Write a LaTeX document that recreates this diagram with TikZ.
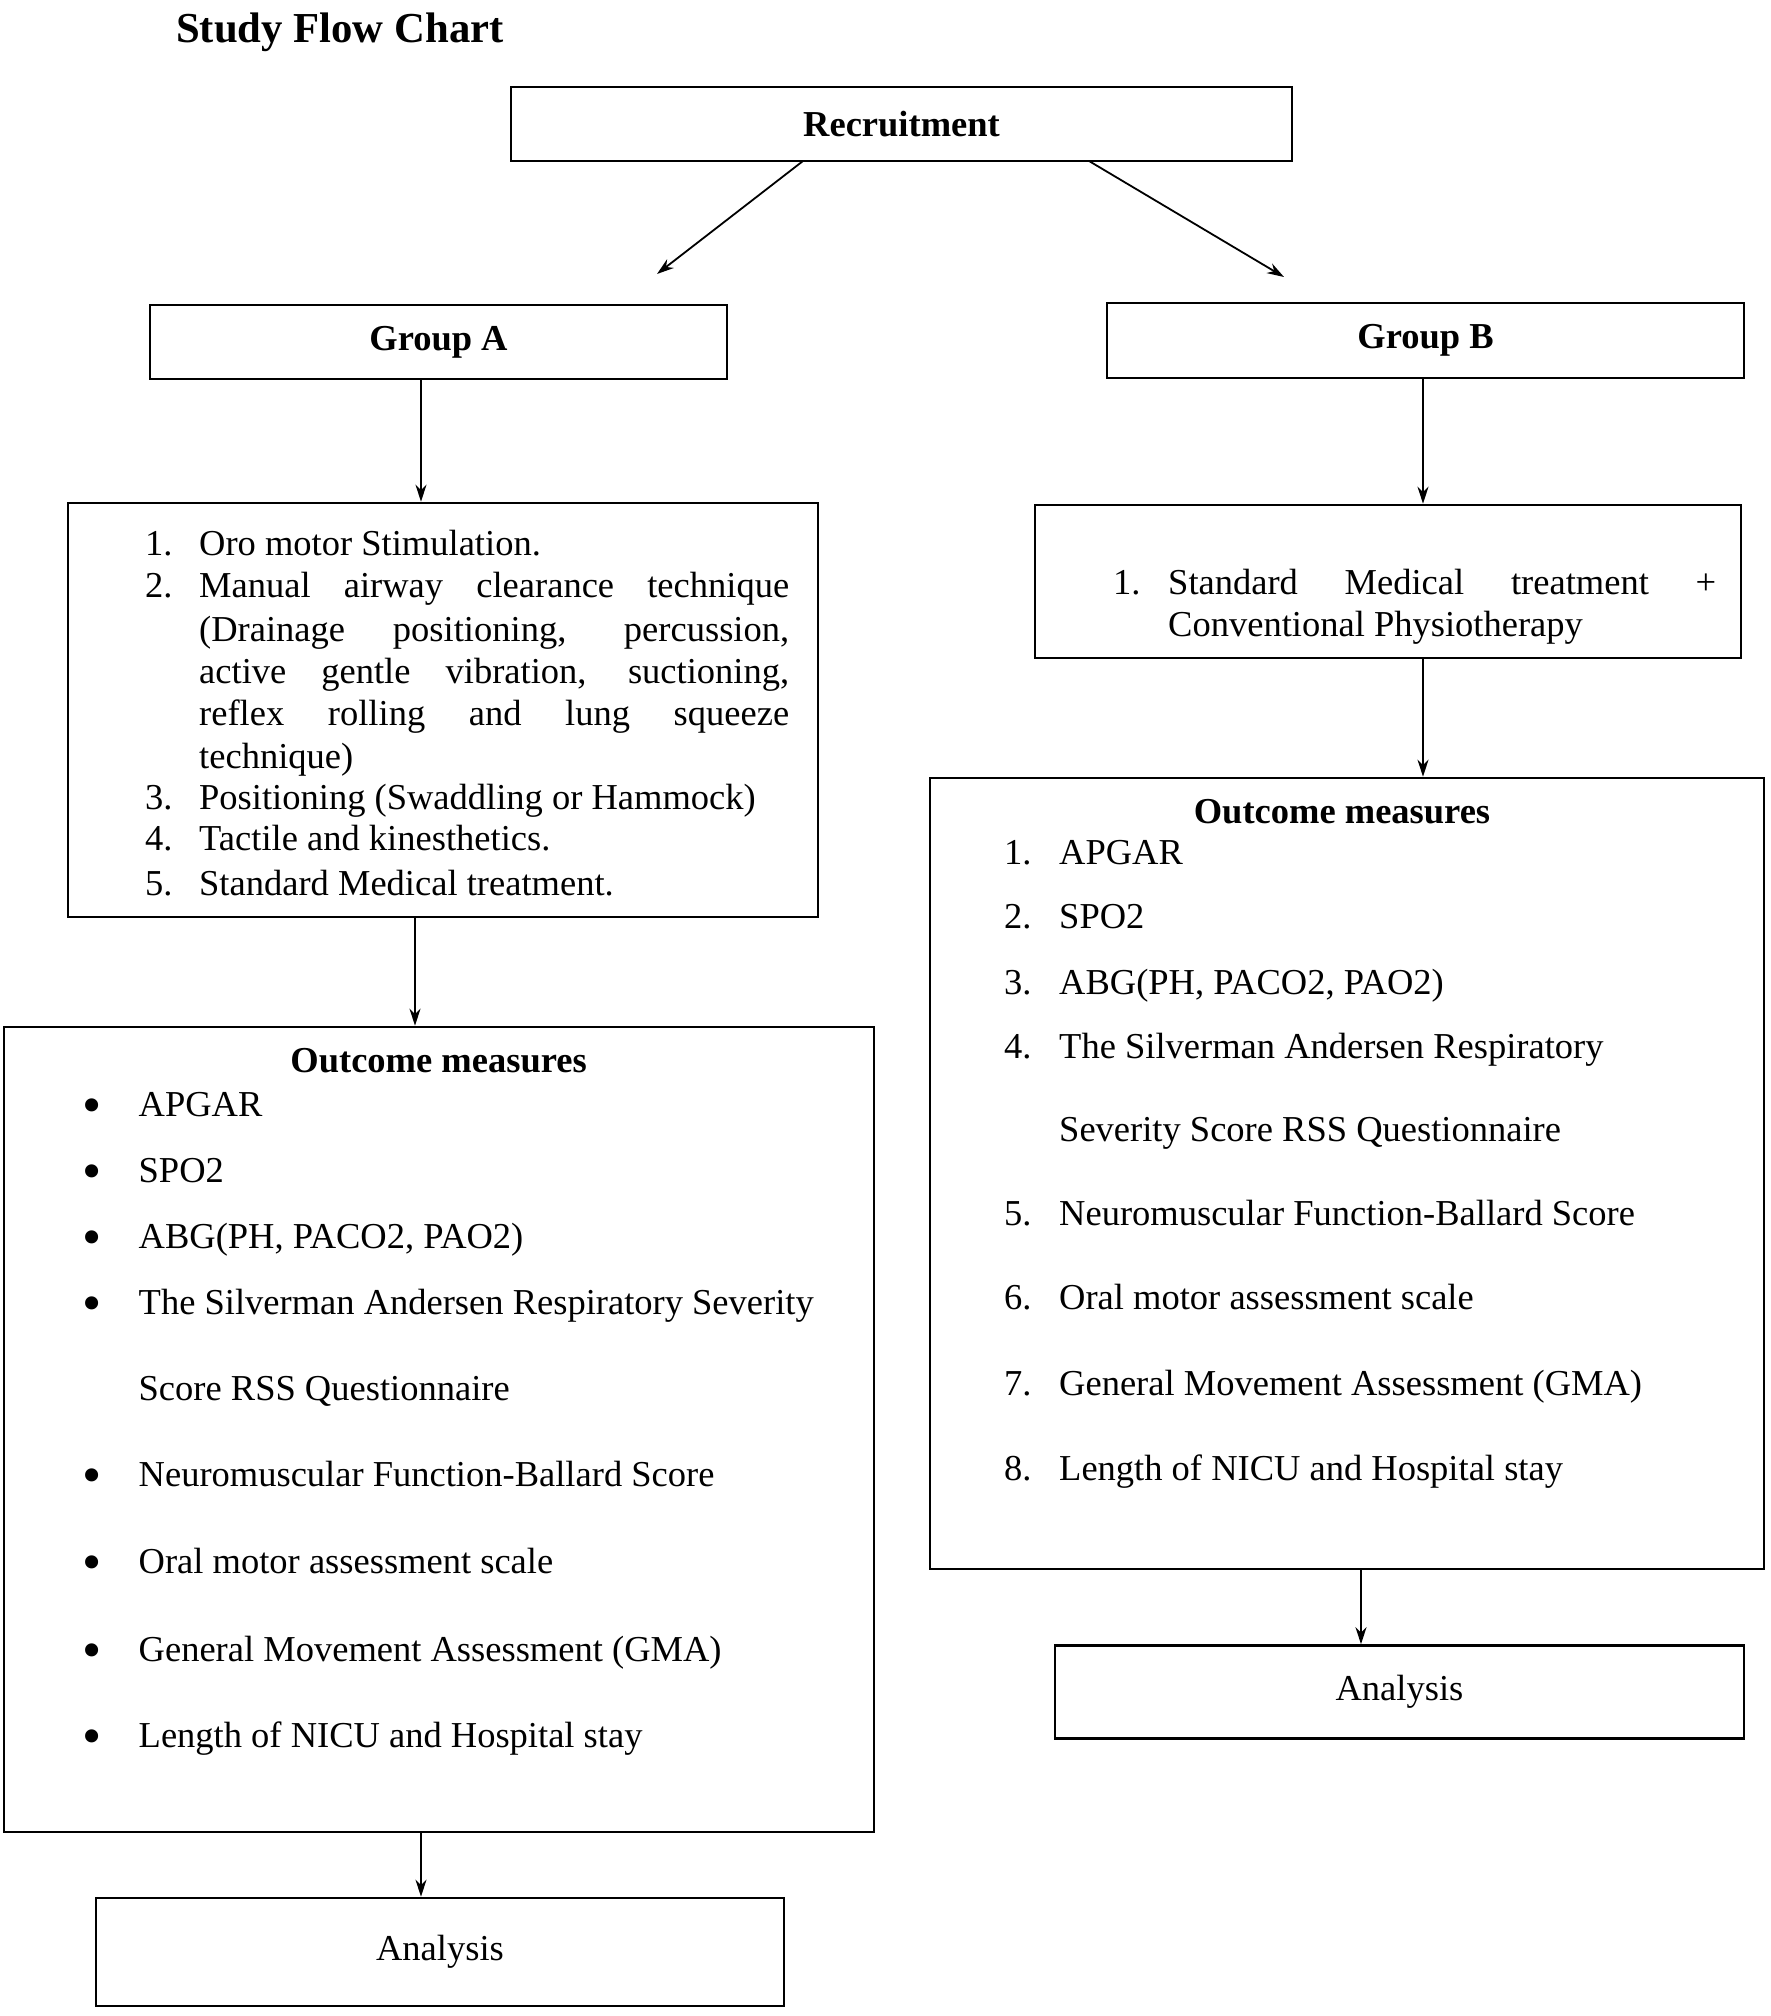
\documentclass[tikz,border=0pt]{standalone}
\usepackage{fontspec}
\setmainfont{Liberation Serif}
\usetikzlibrary{arrows.meta}
\newcommand\bodyfont{\fontsize{36.5}{44}\selectfont}
\newcommand\titlefont{\fontsize{42.7}{50}\selectfont\bfseries}
\newcommand\bigbullet{\raisebox{-7pt}{\scalebox{1.5}{\textbullet}}}
\tikzset{
  box/.style={draw, line width=2.6pt, rectangle, inner sep=0pt, font=\bodyfont},
  arr/.style={line width=1.8pt, -{Stealth[length=17pt,width=11pt]}},
  txt/.style={anchor=west, inner sep=0pt, font=\bodyfont, text height=26pt, text depth=8pt, yshift=-5pt},
  ctxt/.style={txt, anchor=center},
}
\begin{document}
\begin{tikzpicture}[x=1pt,y=-1pt]
\useasboundingbox (0,0) rectangle (1770,2016);
\fill[white] (0,0) rectangle (1770,2016);

% title
\node[txt, font=\titlefont] (title) at (176,28) {Study Flow Chart};

% single-line boxes
\node[box, minimum width=781pt, minimum height=74pt] (rec) at (901.5,124) {\bfseries Recruitment};
\node[box, minimum width=577pt, minimum height=74pt] (gA) at (438.5,342) {\bfseries\raisebox{-3pt}{Group A}};
\node[box, minimum width=637pt, minimum height=75pt] (gB) at (1425.5,340.5) {\bfseries\raisebox{-3pt}{Group B}};
\node[box, minimum width=688pt, minimum height=108pt] (anA) at (440,1952) {Analysis};
\node[box, minimum width=689pt, minimum height=93pt] (anB) at (1399.5,1692) {Analysis};

% large boxes
\node[box, minimum width=750pt, minimum height=414pt] (a1) at (443,710) {};
\node[box, minimum width=706pt, minimum height=153pt] (b1) at (1388,581.5) {};
\node[box, minimum width=834pt, minimum height=791pt] (b2) at (1347,1173.5) {};
\node[box, minimum width=870pt, minimum height=805pt] (a2) at (439,1429.5) {};

% arrows from Recruitment
\coordinate (rl) at (803,161);
\coordinate (rr) at (1089,161);
\coordinate (el) at (657,274);
\coordinate (er) at (1284,277);
\draw[arr] (rl) -- (el);
\draw[arr] (rr) -- (er);

% vertical arrows
\coordinate (xA) at (421,0);
\coordinate (xA2) at (415,0);
\coordinate (xB) at (1423,0);
\coordinate (xB2) at (1361,0);
\draw[arr] (gA.south -| xA) -- (a1.north -| xA);
\draw[arr] (a1.south -| xA2) -- (a2.north -| xA2);
\draw[arr] (a2.south -| xA) -- (anA.north -| xA);
\draw[arr] (gB.south -| xB) -- (b1.north -| xB);
\draw[arr] (b1.south -| xB) -- (b2.north -| xB);
\draw[arr] (b2.south -| xB2) -- (anB.north -| xB2);

% Group A interventions
\node[txt] (a1n1) at (145,541) {1.};
\node[txt] (a1t1) at (199,541) {Oro motor Stimulation.};
\node[txt] (a1n2) at (145,583.6) {2.};
\node[txt] (a1t2) at (199,583.6) {\makebox[590pt][s]{Manual airway clearance technique}};
\node[txt] (a1t3) at (199,627) {\makebox[590pt][s]{(Drainage positioning, percussion,}};
\node[txt] (a1t4) at (199,669.5) {\makebox[590pt][s]{active gentle vibration, suctioning,}};
\node[txt] (a1t5) at (199,711.8) {\makebox[590pt][s]{reflex rolling and lung squeeze}};
\node[txt] (a1t6) at (199,754) {technique)};
\node[txt] (a1n3) at (145,795) {3.};
\node[txt] (a1t7) at (199,795) {Positioning (Swaddling or Hammock)};
\node[txt] (a1n4) at (145,836) {4.};
\node[txt] (a1t8) at (199,836) {Tactile and kinesthetics.};
\node[txt] (a1n5) at (145,881) {5.};
\node[txt] (a1t9) at (199,881) {Standard Medical treatment.};

% Group B intervention
\node[txt] (b1n1) at (1113,580) {1.};
\node[txt] (b1t1) at (1168,580) {\makebox[548pt][s]{Standard Medical treatment +}};
\node[txt] (b1t2) at (1168,622) {Conventional Physiotherapy};

% Group B outcome measures
\node[ctxt, font=\bodyfont\bfseries] (b2h) at (1342,809) {Outcome measures};
\node[txt] (b2n1) at (1004,850) {1.};
\node[txt] (b2t1) at (1059,850) {APGAR};
\node[txt] (b2n2) at (1004,914.5) {2.};
\node[txt] (b2t2) at (1059,914.5) {SPO2};
\node[txt] (b2n3) at (1004,980) {3.};
\node[txt] (b2t3) at (1059,980) {ABG(PH, PACO2, PAO2)};
\node[txt] (b2n4) at (1004,1044) {4.};
\node[txt] (b2t4) at (1059,1044) {The Silverman Andersen Respiratory};
\node[txt] (b2t4b) at (1059,1127) {Severity Score RSS Questionnaire};
\node[txt] (b2n5) at (1004,1211) {5.};
\node[txt] (b2t5) at (1059,1211) {Neuromuscular Function-Ballard Score};
\node[txt] (b2n6) at (1004,1295.5) {6.};
\node[txt] (b2t6) at (1059,1295.5) {Oral motor assessment scale};
\node[txt] (b2n7) at (1004,1381) {7.};
\node[txt] (b2t7) at (1059,1381) {General Movement Assessment (GMA)};
\node[txt] (b2n8) at (1004,1466) {8.};
\node[txt] (b2t8) at (1059,1466) {Length of NICU and Hospital stay};

% Group A outcome measures
\node[ctxt, font=\bodyfont\bfseries] (a2h) at (438.6,1058) {Outcome measures};
\node[ctxt] (a2b1) at (92,1102) {\bigbullet};
\node[txt] (a2t1) at (138.5,1102) {APGAR};
\node[ctxt] (a2b2) at (92,1168.5) {\bigbullet};
\node[txt] (a2t2) at (138.5,1168.5) {SPO2};
\node[ctxt] (a2b3) at (92,1234) {\bigbullet};
\node[txt] (a2t3) at (138.5,1234) {ABG(PH, PACO2, PAO2)};
\node[ctxt] (a2b4) at (92,1300.5) {\bigbullet};
\node[txt] (a2t4) at (138.5,1300.5) {The Silverman Andersen Respiratory Severity};
\node[txt] (a2t4b) at (138.5,1386.5) {Score RSS Questionnaire};
\node[ctxt] (a2b5) at (92,1472.4) {\bigbullet};
\node[txt] (a2t5) at (138.5,1472.4) {Neuromuscular Function-Ballard Score};
\node[ctxt] (a2b6) at (92,1559.6) {\bigbullet};
\node[txt] (a2t6) at (138.5,1559.6) {Oral motor assessment scale};
\node[ctxt] (a2b7) at (92,1647) {\bigbullet};
\node[txt] (a2t7) at (138.5,1647) {General Movement Assessment (GMA)};
\node[ctxt] (a2b8) at (92,1733) {\bigbullet};
\node[txt] (a2t8) at (138.5,1733) {Length of NICU and Hospital stay};
\end{tikzpicture}
\end{document}
